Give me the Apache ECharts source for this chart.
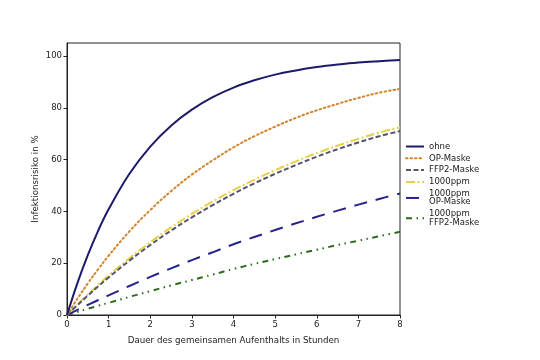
<!DOCTYPE html>
<html>
<head>
<meta charset="utf-8">
<script src="https://cdn.jsdelivr.net/npm/echarts@6/dist/echarts.min.js"></script>
<style>html,body{margin:0;padding:0;background:#fff}#c{width:540px;height:360px}</style>
</head>
<body>
<div id="c"></div>
<script>
var hours = [0,0.25,0.5,0.75,1,1.5,2,2.5,3,3.5,4,4.5,5,5.5,6,6.5,7,7.5,8];
var ohne = [0,12.3,23.1,32.6,40.8,54.5,65.0,73.1,79.3,84.1,87.8,90.6,92.8,94.4,95.7,96.7,97.5,98.0,98.4];
var opMaske = [0,6.3,12.2,17.7,22.9,32.3,40.5,47.8,54.2,59.7,64.7,69.0,72.7,76.1,79.0,81.5,83.8,85.8,87.3];
var ffp2Maske = [0,3.8,7.5,11.1,14.5,21.0,27.0,32.6,37.7,42.4,46.8,50.8,54.5,57.9,61.1,64.0,66.6,69.0,71.0];
var ppm1000 = [0,4.0,7.9,11.6,15.2,21.9,28.1,33.8,39.0,43.8,48.2,52.2,55.9,59.3,62.5,65.4,68.0,70.4,72.5];
var ppm1000Op = [0,2.0,3.9,5.8,7.6,11.2,14.7,18.0,21.2,24.2,27.3,30.1,32.8,35.4,37.9,40.3,42.6,44.8,46.9];
var ppm1000Ffp2 = [0,1.2,2.4,3.6,4.7,7.0,9.2,11.4,13.5,15.6,17.8,19.7,21.6,23.4,25.2,27.0,28.7,30.4,32.1];
var seriesNames = ['ohne','OP-Maske','FFP2-Maske','1000ppm','1000ppm\nOP-Maske','1000ppm\nFFP2-Maske'];
var xTicks = [0,1,2,3,4,5,6,7,8];
var yTicks = [0,20,40,60,80,100];

function pairs(v){ return hours.map(function(h,i){ return [h, v[i]]; }); }
var styles = [
  {color:'#1c1a6b', type:'solid', width:2},
  {color:'#d4832a', type:[1.5,3], width:2, cap:'round'},
  {color:'#55556a', type:[5,2.5], width:2},
  {color:'#e6d048', type:[9,2.5,2,2.5], width:2},
  {color:'#25248a', type:[13,9], width:2},
  {color:'#2f6a1c', type:[6,4.5,1.5,4.5,1.5,4.5], width:2}
];
var allData = [ohne, opMaske, ffp2Maske, ppm1000, ppm1000Op, ppm1000Ffp2];
var font = 'DejaVu Sans';
var chart = echarts.init(document.getElementById('c'), null, {renderer:'canvas'});
chart.setOption({
  animation:false,
  backgroundColor:'#fff',
  textStyle:{fontFamily:font},
  grid:{left:67, right:140, top:43, bottom:45, show:true, borderColor:'#222', borderWidth:1, backgroundColor:'transparent'},
  legend:{
    orient:'vertical', left:405, top:142, padding:0,
    itemWidth:18, itemHeight:6, itemGap:2.8,
    data:seriesNames,
    itemStyle:{color:'transparent', borderColor:'transparent', borderWidth:0},
    textStyle:{fontSize:8.5, lineHeight:8.5, color:'#222', fontFamily:font}
  },
  xAxis:{
    type:'value', min:0, max:8, interval:1,
    name:'Dauer des gemeinsamen Aufenthalts in Stunden', nameLocation:'middle', nameGap:21,
    nameMoveOverlap:false,
    nameTextStyle:{fontSize:8.7, color:'#222', fontFamily:font},
    axisLine:{show:true, lineStyle:{color:'#222', width:1}},
    axisTick:{show:true, length:3.5, lineStyle:{color:'#222'}},
    axisLabel:{fontSize:8.5, color:'#222', margin:5, fontFamily:font},
    splitLine:{show:false}
  },
  yAxis:{
    type:'value', min:0, max:105,
    name:'Infektionsrisiko in %', nameLocation:'middle', nameGap:27,
    nameMoveOverlap:false,
    nameTextStyle:{fontSize:8.7, color:'#222', fontFamily:font},
    axisLine:{show:true, lineStyle:{color:'#222', width:1}},
    axisTick:{show:true, length:3.5, lineStyle:{color:'#222'}, customValues:yTicks},
    axisLabel:{fontSize:8.5, color:'#222', margin:5, fontFamily:font, customValues:yTicks},
    splitLine:{show:false}
  },
  series: seriesNames.map(function(n,i){
    var s = styles[i];
    return {
      name:n, type:'line', smooth:0.4, symbol:'none', showSymbol:false,
      data:pairs(allData[i]), z: 10-i,
      itemStyle:{color:s.color},
      lineStyle:{color:s.color, width:s.width, type:s.type, cap:s.cap||'butt'}
    };
  })
});
</script>
</body>
</html>
